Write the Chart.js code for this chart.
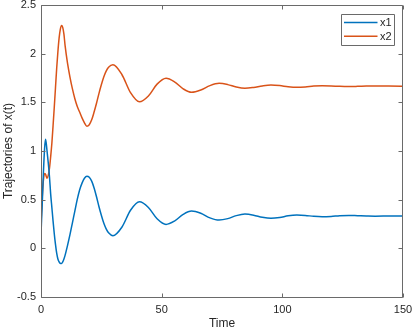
<!DOCTYPE html>
<html>
<head>
<meta charset="utf-8">
<script src="https://cdn.jsdelivr.net/npm/chart.js@4.4.1/dist/chart.umd.min.js"></script>
<style>
  html, body { margin: 0; padding: 0; background: #fff; }
  canvas { display: block; }
</style>
</head>
<body>
<canvas id="traj" width="413" height="332"></canvas>
<script>
// time samples
const timeValues = [
  0, 0.5, 1, 1.5, 1.9, 2.5, 3, 3.5, 4, 4.5, 5, 5.5, 6, 6.5, 7, 7.5, 8, 8.5, 9, 9.5,
  10, 11, 12, 13, 14, 15, 16, 17, 18, 19, 20, 21, 22, 23, 24, 25, 26, 27, 28, 29.8,
  33.5, 37.1, 40.8, 44.5, 48.1, 51.8, 55.3, 58.9, 62.4, 66.2, 70, 73.8, 77.4, 80.9,
  84.5, 88.1, 91.7, 95.3, 98.9, 102.4, 106, 109.5, 113, 116.5, 120.2, 123.8, 127.5,
  131.2, 134.8, 138.5, 144, 150
];
const x1Values = [
  0.15, 0.45, 0.78, 1.03, 1.12, 1.0, 0.88, 0.74, 0.56, 0.42, 0.28, 0.15, 0.04, -0.05, -0.11, -0.14, -0.155, -0.157, -0.14, -0.11,
  -0.07, 0.03, 0.14, 0.26, 0.38, 0.5, 0.6, 0.67, 0.72, 0.74, 0.73, 0.69, 0.62, 0.53, 0.43, 0.34, 0.26, 0.2, 0.16, 0.13,
  0.217, 0.391, 0.478, 0.42, 0.304, 0.246, 0.28, 0.349, 0.383, 0.36, 0.313, 0.29, 0.305, 0.336,
  0.352, 0.341, 0.319, 0.308, 0.316, 0.334, 0.342, 0.338, 0.329, 0.325, 0.328, 0.335, 0.338,
  0.335, 0.332, 0.330, 0.332, 0.333
];
const x2Values = [
  0.25, 0.52, 0.7, 0.77, 0.76, 0.72, 0.75, 0.82, 0.94, 1.08, 1.26, 1.45, 1.65, 1.85, 2.02, 2.16, 2.25, 2.29, 2.27, 2.2,
  2.08, 1.9, 1.76, 1.64, 1.54, 1.46, 1.4, 1.34, 1.29, 1.255, 1.27, 1.32, 1.4, 1.49, 1.59, 1.68, 1.76, 1.82, 1.86, 1.885,
  1.786, 1.599, 1.505, 1.565, 1.687, 1.747, 1.711, 1.639, 1.603, 1.626, 1.672, 1.695, 1.682, 1.657,
  1.644, 1.653, 1.669, 1.678, 1.672, 1.660, 1.654, 1.658, 1.667, 1.671, 1.669, 1.664, 1.662,
  1.664, 1.667, 1.668, 1.667, 1.666
];
const seriesLabels = ['x1', 'x2'];
const seriesColors = ['#0072BD', '#D95319'];
const xTicks = [0, 50, 100, 150];
const yTicks = [-0.5, 0, 0.5, 1, 1.5, 2, 2.5];

const axisColor = '#6a6a6a';
const textColor = '#262626';
const fontFamily = '"Liberation Sans", Arial, Helvetica, sans-serif';

// box round the axes, inward ticks on all sides, and the legend box
const matlabAxes = {
  id: 'matlabAxes',
  afterDraw(chart) {
    const ctx = chart.ctx;
    const a = chart.chartArea;
    const x = chart.scales.x, y = chart.scales.y;
    ctx.save();
    ctx.globalAlpha = 1;
    ctx.setLineDash([]);
    ctx.strokeStyle = axisColor;
    ctx.lineWidth = 1;
    const L = Math.round(a.left) + 0.5, R = Math.round(a.right) - 0.5;
    const T = Math.round(a.top) + 0.5, B = Math.round(a.bottom) + 0.5;
    ctx.beginPath();
    ctx.moveTo(L, T); ctx.lineTo(R, T);
    ctx.moveTo(R, T); ctx.lineTo(R, B);
    ctx.moveTo(R, B); ctx.lineTo(L, B);
    ctx.moveTo(L, B); ctx.lineTo(L, T);
    xTicks.forEach(v => {
      const px = Math.round(x.getPixelForValue(v)) + 0.5;
      ctx.moveTo(px, B); ctx.lineTo(px, B - 4);
      ctx.moveTo(px, T); ctx.lineTo(px, T + 4);
    });
    yTicks.forEach(v => {
      const py = Math.round(y.getPixelForValue(v)) + 0.5;
      ctx.moveTo(L, py); ctx.lineTo(L + 4, py);
      ctx.moveTo(R, py); ctx.lineTo(R - 4, py);
    });
    ctx.stroke();

    // legend
    const bx = Math.round(a.right - 62) + 0.5, by = Math.round(a.top + 9) + 0.5;
    const bw = 53, bh = 31;
    ctx.fillStyle = '#ffffff';
    ctx.fillRect(bx, by, bw, bh);
    ctx.beginPath();
    ctx.rect(bx, by, bw, bh);
    ctx.strokeStyle = axisColor;
    ctx.lineWidth = 1;
    ctx.stroke();
    ctx.font = '11px ' + fontFamily;
    ctx.textBaseline = 'middle';
    ctx.textAlign = 'left';
    chart.data.datasets.forEach((ds, i) => {
      const ly = by + 8 + i * 13.7;
      ctx.strokeStyle = ds.borderColor;
      ctx.lineWidth = 1.5;
      ctx.beginPath();
      ctx.moveTo(bx + 2.5, ly); ctx.lineTo(bx + 36, ly);
      ctx.stroke();
      ctx.fillStyle = textColor;
      ctx.fillText(ds.label, bx + 38.5, ly + 0.5);
    });
    ctx.restore();
  }
};

const datasets = seriesLabels.map((name, i) => {
  const vals = i === 0 ? x1Values : x2Values;
  return {
    label: name,
    data: timeValues.map((t, k) => ({x: t, y: vals[k]})),
    borderColor: seriesColors[i],
    backgroundColor: seriesColors[i],
    borderWidth: 1.5,
    pointRadius: 0,
    cubicInterpolationMode: 'monotone',
    fill: false
  };
});

new Chart(document.getElementById('traj'), {
  type: 'line',
  data: {datasets: datasets},
  plugins: [matlabAxes],
  options: {
    responsive: false,
    animation: false,
    layout: {padding: {top: 5, right: 10, left: 0, bottom: 0}},
    plugins: {legend: {display: false}, tooltip: {enabled: false}},
    scales: {
      x: {
        type: 'linear', min: 0, max: 150,
        grid: {display: false, drawTicks: false},
        border: {display: false},
        afterBuildTicks: s => { s.ticks = xTicks.map(v => ({value: v})); },
        ticks: {color: textColor, font: {family: fontFamily, size: 11}, padding: 6, maxRotation: 0,
          callback: v => String(v)},
        title: {display: true, text: 'Time', color: textColor,
          font: {family: fontFamily, size: 12}, padding: {top: 0, bottom: 1}},
        afterFit: s => { s.height = 35; s.paddingLeft = 0; s.paddingRight = 0; }
      },
      y: {
        type: 'linear', min: -0.5, max: 2.5,
        grid: {display: false, drawTicks: false},
        border: {display: false},
        afterBuildTicks: s => { s.ticks = yTicks.map(v => ({value: v})); },
        ticks: {color: textColor, font: {family: fontFamily, size: 11}, padding: 5,
          callback: v => String(v)},
        title: {display: true, text: 'Trajectories of x(t)', color: textColor,
          font: {family: fontFamily, size: 12}, padding: {top: 1, bottom: 0}},
        afterFit: s => { s.width = 41; s.paddingTop = 0; s.paddingBottom = 0; }
      }
    }
  }
});
</script>
</body>
</html>
